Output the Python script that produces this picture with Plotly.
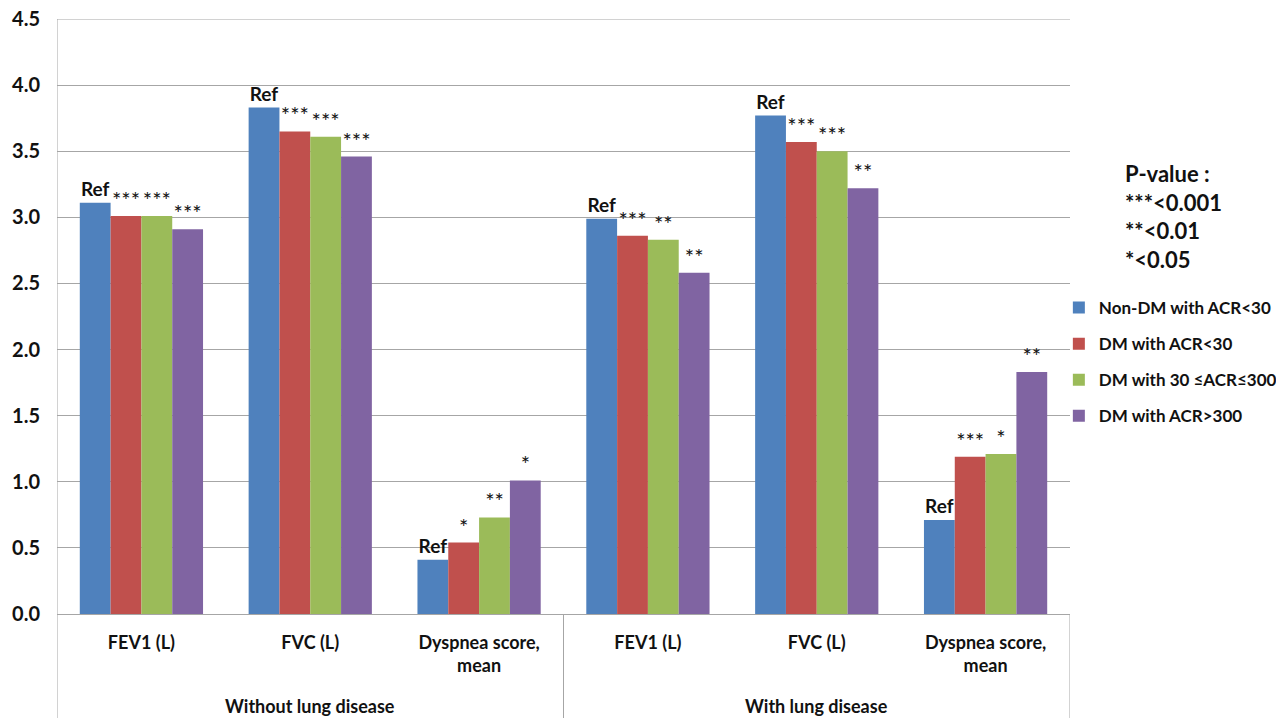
import plotly.graph_objects as go

groups = ["Without lung disease", "With lung disease"]
measures = ["FEV1 (L)", "FVC (L)", "Dyspnea score,<br>mean"]
series_names = ["Non-DM with ACR<30", "DM with ACR<30", "DM with 30 \u2264ACR\u2264300", "DM with ACR>300"]
colors = ["#4F81BD", "#C0504D", "#9BBB59", "#8064A2"]

# values per series across 6 categories (group x measure)
non_dm_acr30 = [3.11, 3.83, 0.41, 2.99, 3.77, 0.71]
dm_acr30 = [3.01, 3.65, 0.54, 2.86, 3.57, 1.19]
dm_acr30_300 = [3.01, 3.61, 0.73, 2.83, 3.50, 1.21]
dm_acr300 = [2.91, 3.46, 1.01, 2.58, 3.22, 1.83]
values = [non_dm_acr30, dm_acr30, dm_acr30_300, dm_acr300]

labels_s1 = ["<b>Ref</b>"] * 6
labels_s2 = ["***", "***", "*", "***", "***", "***"]
labels_s3 = ["***", "***", "**", "**", "***", "*"]
labels_s4 = ["***", "***", "*", "**", "**", "**"]
labels = [labels_s1, labels_s2, labels_s3, labels_s4]

pvalue_lines = ["P-value :", "***<0.001", "**<0.01", "*<0.05"]

y_ticks = [0.0, 0.5, 1.0, 1.5, 2.0, 2.5, 3.0, 3.5, 4.0, 4.5]

cats = [m for g in groups for m in measures]
xpos = list(range(len(cats)))

FONT = "Lato"
TXT = "#111111"
GRID = "#A6A6A6"
fig = go.Figure()
for i, name in enumerate(series_names):
    fig.add_trace(go.Bar(
        x=xpos, y=values[i], name=name,
        marker=dict(color=colors[i], line=dict(width=0)),
        text=labels[i], textposition="outside", constraintext="none",
        textfont=dict(family=FONT, size=19 if i == 0 else 22, color=TXT),
        cliponaxis=False, legendgroup=f"g{i}",
    ))

# page has an 8px body margin, so the figure is 8px smaller than the window
fig.update_layout(
    width=1276, height=710,
    margin=dict(l=49, r=214, t=11, b=104, autoexpand=False),
    paper_bgcolor="white", plot_bgcolor="white",
    barmode="group", bargap=0.27, bargroupgap=0,
    font=dict(family=FONT, color=TXT),
    showlegend=True,
    legend=dict(x=0.989, xanchor="left", y=(614 - 290) / 595, yanchor="top",
                font=dict(family=FONT, size=17, weight="bold", color=TXT),
                tracegroupgap=11, itemwidth=30,
                bgcolor="rgba(0,0,0,0)"),
)
fig.update_yaxes(range=[0, y_ticks[-1]], tickvals=y_ticks, tickformat=".1f",
                 showgrid=True, gridcolor=GRID, gridwidth=1,
                 zeroline=False, showline=False, automargin=False,
                 ticklabeloverflow="allow",
                 tickfont=dict(family=FONT, size=20, weight="bold", color=TXT),
                 ticks="", ticklabelstandoff=16)
fig.update_xaxes(range=[-0.5, len(cats) - 0.5], tickvals=xpos, ticktext=cats,
                 showgrid=False, zeroline=False, showline=True, automargin=False,
                 linecolor=GRID, linewidth=1, ticks="",
                 tickfont=dict(family=FONT, size=18, weight="bold", color=TXT),
                 ticklabelstandoff=12)

# top gridline (plotly drops gridlines at the range edge)
fig.add_shape(type="line", xref="paper", yref="y", x0=0, x1=1, y0=y_ticks[-1], y1=y_ticks[-1],
              line=dict(color=GRID, width=1))

# axis/divider lines
bottom = -104 / 595
fig.add_shape(type="line", xref="x", yref="paper", x0=-0.5, x1=-0.5, y0=bottom, y1=1,
              line=dict(color=GRID, width=1))
for xb in [len(measures) - 0.5, len(cats) - 0.5]:
    fig.add_shape(type="line", xref="x", yref="paper", x0=xb, x1=xb, y0=bottom, y1=0,
                  line=dict(color=GRID, width=1))

# group labels
for gi, g in enumerate(groups):
    center = gi * len(measures) + (len(measures) - 1) / 2
    fig.add_annotation(x=center, xref="x", y=(614 - 706) / 595, yref="paper", yanchor="middle",
                       text=g, showarrow=False,
                       font=dict(family=FONT, size=18, weight="bold", color=TXT))

# p-value legend text
fig.add_annotation(x=1.052, xref="paper", y=(614 - 158) / 595, yref="paper",
                   xanchor="left", yanchor="top", align="left", showarrow=False,
                   text="<br>".join(pvalue_lines),
                   font=dict(family=FONT, size=22, weight="bold", color=TXT))

fig.write_html("out.html")
